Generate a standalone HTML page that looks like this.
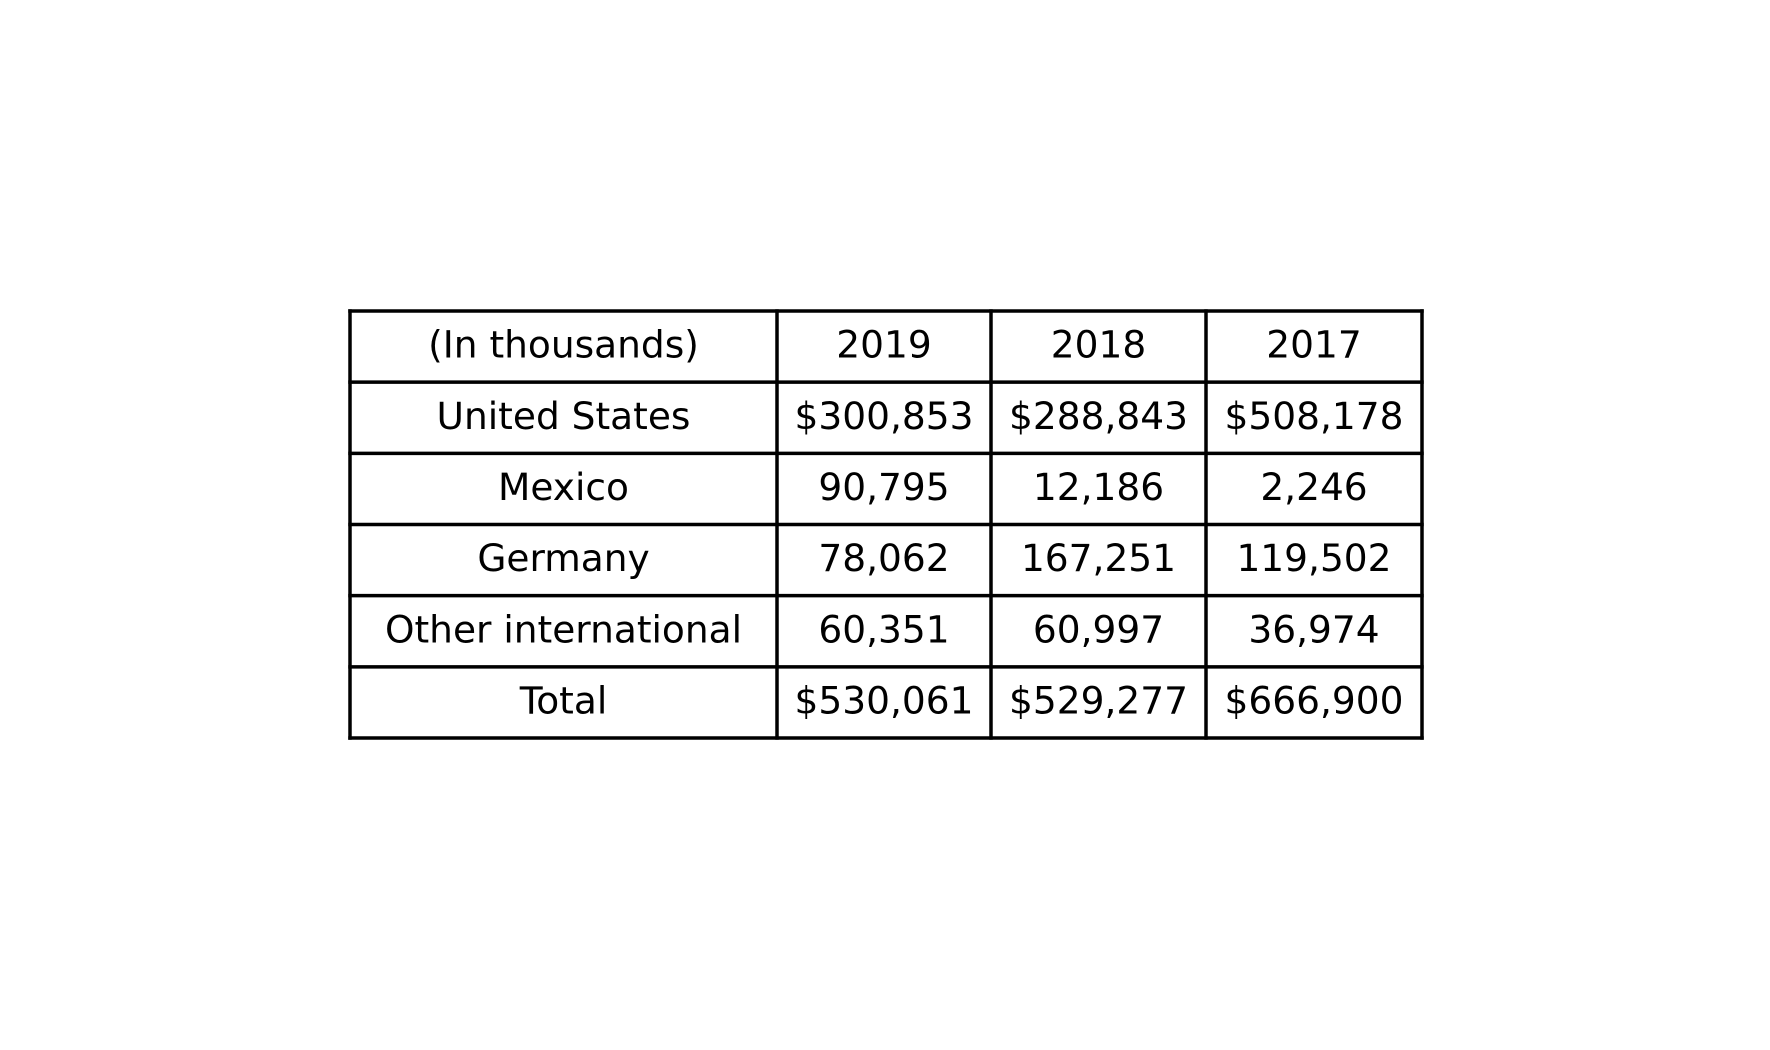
<!DOCTYPE html>
<html><head><meta charset="utf-8"><style>
html,body{margin:0;padding:0;background:#fff;width:1770px;height:1050px;overflow:hidden}
svg text{font-family:"DejaVu Sans","Liberation Sans",sans-serif;font-size:37.5px;fill:#000}
</style></head><body>
<svg id="tbl" width="1770" height="1050" xmlns="http://www.w3.org/2000/svg"></svg>
<script>
const headers = ["(In thousands)","2019","2018","2017"];
const rowLabels = ["United States","Mexico","Germany","Other international","Total"];
const col2019 = ["$300,853","90,795","78,062","60,351","$530,061"];
const col2018 = ["$288,843","12,186","167,251","60,997","$529,277"];
const col2017 = ["$508,178","2,246","119,502","36,974","$666,900"];

const svg = document.getElementById('tbl');
const NS = 'http://www.w3.org/2000/svg';
const xs = [350,777,991,1206,1422];
const top0 = 311, bottom0 = 738;
const nRows = rowLabels.length + 1;
const rh = (bottom0 - top0) / nRows;
const rows = [headers].concat(rowLabels.map((l,i)=>[l,col2019[i],col2018[i],col2017[i]]));
rows.forEach((r,ri)=>{
  r.forEach((v,ci)=>{
    const t = document.createElementNS(NS,'text');
    t.setAttribute('x',(xs[ci]+xs[ci+1])/2);
    t.setAttribute('y',top0+rh*ri+rh/2+11);
    t.setAttribute('text-anchor','middle');
    t.textContent = v;
    
    
    svg.appendChild(t);
  });
});
for(let i=0;i<=nRows;i++){
  const l=document.createElementNS(NS,'line');
  l.setAttribute('x1',xs[0]-1.75);l.setAttribute('x2',xs[4]+1.75);
  l.setAttribute('y1',top0+rh*i);l.setAttribute('y2',top0+rh*i);
  l.setAttribute('stroke','#000');l.setAttribute('stroke-width','3.5');
  
  
  svg.appendChild(l);
}
xs.forEach(x=>{
  const l=document.createElementNS(NS,'line');
  l.setAttribute('x1',x);l.setAttribute('x2',x);
  l.setAttribute('y1',top0-1.75);l.setAttribute('y2',bottom0+1.75);
  l.setAttribute('stroke','#000');l.setAttribute('stroke-width','3.5');
  
  
  svg.appendChild(l);
});
</script>
</body></html>
